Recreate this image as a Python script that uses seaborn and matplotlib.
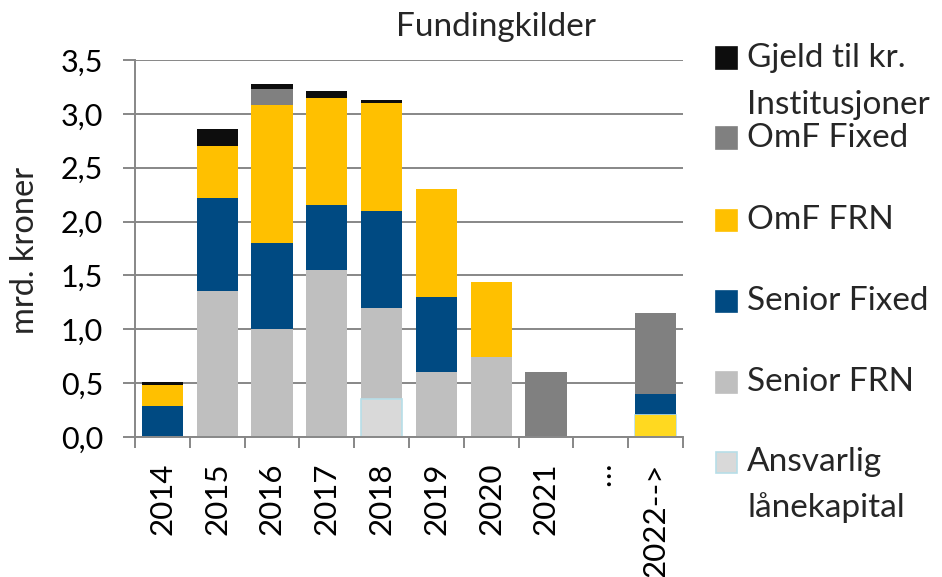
import numpy as np
import matplotlib
matplotlib.use("Agg")
import matplotlib.pyplot as plt
from matplotlib.patches import Rectangle
from matplotlib.ticker import FixedLocator
import seaborn as sns

# Data (mrd. kroner)
years = ["2014", "2015", "2016", "2017", "2018", "2019", "2020", "2021", "\u2026", "2022-->"]
ekstra_2022 = [0, 0, 0, 0, 0, 0, 0, 0, 0, 0.20]
ansvarlig = [0, 0, 0, 0, 0.35, 0, 0, 0, 0, 0]
senior_frn = [0, 1.36, 1.00, 1.55, 0.85, 0.60, 0.74, 0, 0, 0]
senior_fixed = [0.29, 0.86, 0.80, 0.60, 0.90, 0.70, 0, 0, 0, 0.20]
omf_frn = [0.19, 0.48, 1.28, 1.00, 1.00, 1.00, 0.70, 0, 0, 0]
omf_fixed = [0, 0, 0.15, 0, 0, 0, 0, 0.60, 0, 0.75]
gjeld = [0.03, 0.16, 0.05, 0.06, 0.03, 0, 0, 0, 0, 0]

y_ticks = [0.0, 0.5, 1.0, 1.5, 2.0, 2.5, 3.0, 3.5]

# bottom -> top stacking order
stack = [
    ("_ekstra", ekstra_2022, "#FFD920", None),
    ("Ansvarlig\nlånekapital", ansvarlig, "#D9D9D9", "#B7DEE8"),
    ("Senior FRN", senior_frn, "#BFBFBF", None),
    ("Senior Fixed", senior_fixed, "#004A82", None),
    ("OmF FRN", omf_frn, "#FFC000", None),
    ("OmF Fixed", omf_fixed, "#808080", None),
    ("Gjeld til kr.\nInstitusjoner", gjeld, "#0D0D0D", None),
]

sns.set_theme(style="white")
plt.rcParams["font.family"] = ["Lato", "DejaVu Sans"]

W, H = 942, 577
fig = plt.figure(figsize=(W / 100, H / 100), dpi=100)
ax = fig.add_axes([135 / W, 1 - 437 / H, (683 - 135) / W, (437 - 60) / H])

cum = np.cumsum(np.array([s[1] for s in stack]), axis=0)
# paint cumulative totals from the top down so each layer covers the previous
for i in range(len(stack) - 1, -1, -1):
    name, vals, color, edge = stack[i]
    sns.barplot(
        x=years, y=cum[i], order=years, color=color, saturation=1,
        width=0.75, ax=ax,
        edgecolor=edge if edge else "none", linewidth=1.2 if edge else 0,
    )

grid_c = "#878787"
ax.set_ylim(0, 3.5)
ax.set_xlim(-0.5, len(years) - 0.5)
ax.set_yticks(y_ticks)
ax.set_yticklabels([f"{v:.1f}".replace(".", ",") for v in y_ticks])
ax.yaxis.grid(True, color=grid_c, linewidth=1.4)
ax.set_axisbelow(True)
ax.set_xlabel("")
ax.set_ylabel("")
fig.text(25 / W, 1 - 250 / H, "mrd. kroner", rotation=90, ha="center",
         va="center", fontsize=23.5)

for side in ["top", "right"]:
    ax.spines[side].set_visible(False)
for side in ["left", "bottom"]:
    ax.spines[side].set_color(grid_c)
    ax.spines[side].set_linewidth(1.4)

ax.tick_params(axis="y", which="major", left=True, length=9, width=1.4,
               color=grid_c, pad=14, labelsize=22, labelcolor="black")
ax.set_xticks(range(len(years)))
ax.set_xticklabels(years, rotation=90, va="top", ha="center")
ax.tick_params(axis="x", which="major", bottom=True, length=0, pad=18.5,
               labelsize=22.5, labelcolor="black")
ax.xaxis.set_minor_locator(FixedLocator(np.arange(-0.5, len(years), 1.0)))
ax.tick_params(axis="x", which="minor", bottom=True, length=8, width=1.4,
               color=grid_c)

fig.text(496 / W, 1 - 27 / H, "Fundingkilder", ha="center", va="center",
         fontsize=24)

# legend drawn by hand to follow the reference spacing
legend_rows = [
    (stack[6], [58, 105], 58),
    (stack[5], [138], 138),
    (stack[4], [220], 220),
    (stack[3], [301], 301),
    (stack[2], [382], 382),
    (stack[1], [462, 508], 462),
]
for (name, _, color, edge), text_ys, marker_y in legend_rows:
    fig.patches.append(Rectangle(
        (716 / W, 1 - (marker_y + 10.5) / H), 21 / W, 21 / H,
        transform=fig.transFigure, facecolor=color,
        edgecolor=edge if edge else color, linewidth=1.2))
    for line, ty in zip(name.split("\n"), text_ys):
        fig.text(747 / W, 1 - ty / H, line, ha="left", va="center",
                 fontsize=24)

fig.savefig("out.png", dpi=100)
